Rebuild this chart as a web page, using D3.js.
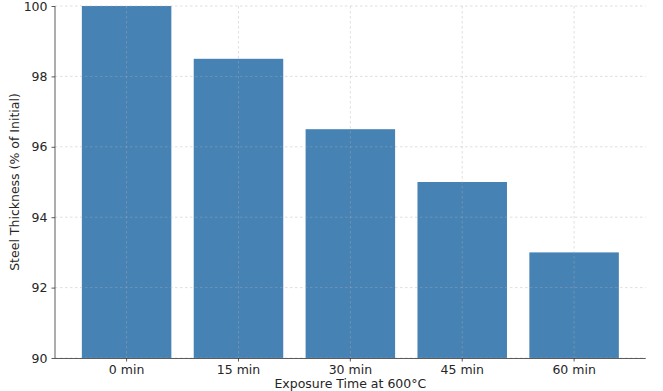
<!DOCTYPE html>
<html>
<head>
<meta charset="utf-8">
<script src="https://cdn.jsdelivr.net/npm/d3@7"></script>
<style>
  body { margin: 0; background: #fff; }
  svg { display: block; font-family: "DejaVu Sans", sans-serif; }
</style>
</head>
<body>
<svg id="chart" width="663" height="391"></svg>
<script>
const categories = ["0 min", "15 min", "30 min", "45 min", "60 min"];
const thickness = [100, 98.5, 96.5, 95, 93];
const yTicks = [90, 92, 94, 96, 98, 100];
const xLabel = "Exposure Time at 600°C";
const yLabel = "Steel Thickness (% of Initial)";

const svg = d3.select("#chart");
const m = { left: 55, right: 663 - 645.7, top: 6, bottom: 391 - 358 };
const W = 663, H = 391;

const x = d3.scaleBand().domain(categories).range([m.left, W - m.right])
  .paddingInner(0.2).paddingOuter(0.24);
const y = d3.scaleLinear().domain([90, 100]).range([H - m.bottom, m.top]);

// bars
svg.append("g").selectAll("rect").data(categories).join("rect")
  .attr("x", d => x(d))
  .attr("width", x.bandwidth())
  .attr("y", (d, i) => y(thickness[i]))
  .attr("height", (d, i) => y(90) - y(thickness[i]))
  .attr("fill", "#4682b4");

// grid (drawn above bars, semi-transparent)
const grid = svg.append("g").attr("stroke", "#b0b0b0").attr("stroke-opacity", 0.5)
  .attr("stroke-width", 0.8).attr("stroke-dasharray", "2.5,2.5");
grid.selectAll("line.h").data(yTicks).join("line").attr("class", "h")
  .attr("x1", m.left).attr("x2", W - m.right)
  .attr("y1", d => y(d)).attr("y2", d => y(d));
grid.selectAll("line.v").data(categories).join("line").attr("class", "v")
  .attr("x1", d => x(d) + x.bandwidth() / 2).attr("x2", d => x(d) + x.bandwidth() / 2)
  .attr("y1", m.top).attr("y2", H - m.bottom);

// axes
const xAxis = svg.append("g").attr("transform", `translate(0,${H - m.bottom})`)
  .call(d3.axisBottom(x).tickSize(3.5).tickPadding(4).tickSizeOuter(0));
const yAxis = svg.append("g").attr("transform", `translate(${m.left},0)`)
  .call(d3.axisLeft(y).tickValues(yTicks).tickSize(3.5).tickPadding(4).tickSizeOuter(0));
[xAxis, yAxis].forEach(a => {
  a.selectAll("text").attr("font-family", "DejaVu Sans").attr("font-size", 12.5).attr("fill", "#262626");
  a.selectAll("line").attr("stroke", "#333").attr("stroke-width", 0.8);
  a.select(".domain").attr("stroke", "#333").attr("stroke-width", 0.8);
});
xAxis.select(".domain").attr("d", `M${m.left},0.5H${W - m.right}`);
yAxis.select(".domain").attr("d", `M0,${m.top}V${H - m.bottom}`);

svg.append("text").attr("x", (m.left + W - m.right) / 2).attr("y", 388)
  .attr("text-anchor", "middle").attr("font-size", 12.5).attr("fill", "#262626").text(xLabel);
svg.append("text").attr("transform", `translate(19,${(m.top + H - m.bottom) / 2}) rotate(-90)`)
  .attr("text-anchor", "middle").attr("font-size", 12.5).attr("fill", "#262626").text(yLabel);
</script>
</body>
</html>
